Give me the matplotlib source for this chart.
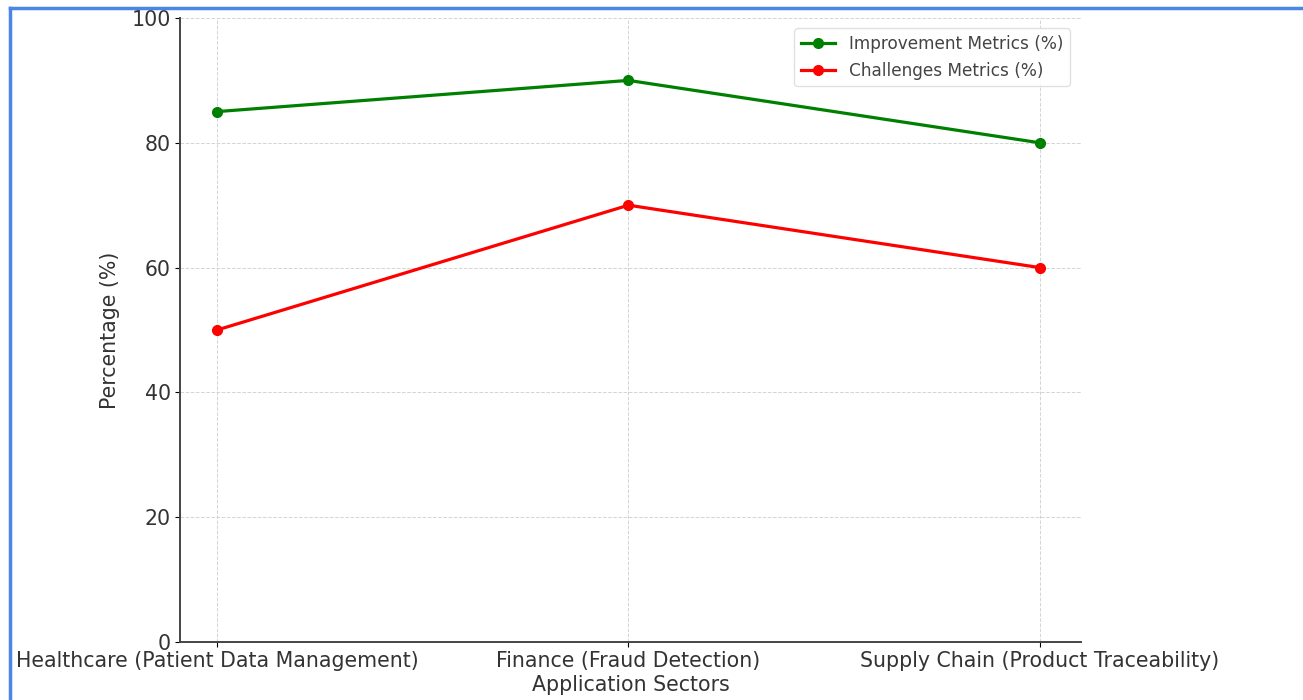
import matplotlib.pyplot as plt
from matplotlib.lines import Line2D

# ---------------- DATA ----------------
sectors = [
    "Healthcare (Patient Data Management)",
    "Finance (Fraud Detection)",
    "Supply Chain (Product Traceability)",
]
improvement = [85, 90, 80]
challenges = [50, 70, 60]

fig = plt.figure(figsize=(13.03, 7.0), dpi=100)
ax = fig.add_axes([180 / 1303, 1 - 642 / 700, 901 / 1303, 624 / 700])

x = range(len(sectors))
ax.plot(x, improvement, color="green", marker="o", lw=2.3, ms=7,
        label="Improvement Metrics (%)")
ax.plot(x, challenges, color="red", marker="o", lw=2.3, ms=7,
        label="Challenges Metrics (%)")

ax.set_xticks(list(x))
ax.set_xticklabels(sectors, fontsize=14.8, color="#333333")
ax.set_ylim(0, 100)
ax.set_yticks([0, 20, 40, 60, 80, 100])
ax.tick_params(axis="y", labelsize=14.8, labelcolor="#333333", pad=3)
ax.tick_params(axis="x", pad=3)
ax.set_xlim(-0.09, 2.1)

ax.set_xlabel("Application Sectors", fontsize=14.8, color="#333333", labelpad=3)
ax.set_ylabel("Percentage (%)", fontsize=14.8, color="#333333", labelpad=8)

ax.grid(True, linestyle="--", linewidth=0.7, color="#d4d4d4")
for side in ("top", "right"):
    ax.spines[side].set_visible(False)
for side in ("left", "bottom"):
    ax.spines[side].set_color("#444444")
    ax.spines[side].set_linewidth(1.4)

ax.legend(loc="upper right", bbox_to_anchor=(0.997, 0.997), fontsize=12.2,
          framealpha=0.9, edgecolor="#dddddd", labelcolor="#444444")

# screenshot frame (top and left edges)
fig.add_artist(Line2D([10 / 1303, 1.0], [1 - 8 / 700] * 2, color="#4a86e8", lw=2.5))
fig.add_artist(Line2D([10 / 1303] * 2, [0, 1 - 8 / 700], color="#4a86e8", lw=2.5))

fig.savefig("out.png", dpi=100, facecolor="white")
